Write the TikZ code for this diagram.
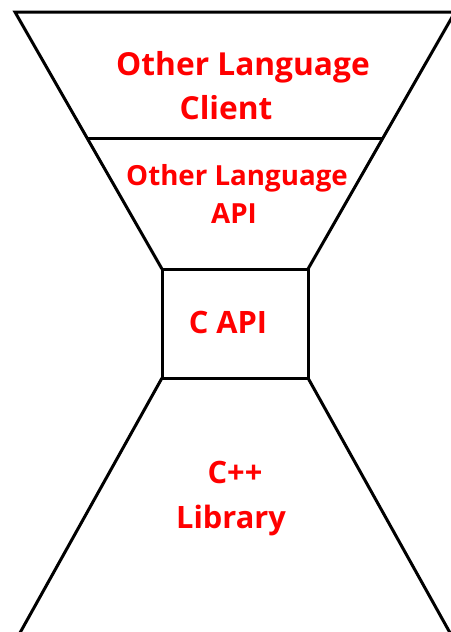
\documentclass[tikz,border=0pt]{standalone}
\usepackage{fontspec}
\setmainfont{Open Sans}
\begin{document}
\begin{tikzpicture}[x=1pt,y=-1pt,
  edge/.style={line width=3pt,line join=miter},
  lbl/.style={text=red,font=\bfseries,inner sep=0pt,anchor=base},
  biglbl/.style={lbl,font=\fontsize{31.7}{31.7}\selectfont\bfseries},
  midlbl/.style={lbl,font=\fontsize{27.7}{27.7}\selectfont\bfseries},
  corelbl/.style={lbl,font=\fontsize{30.8}{30.8}\selectfont\bfseries}]
\useasboundingbox (0,0) rectangle (450,632);
% corner points of the hourglass
\coordinate (tl) at (15,12);
\coordinate (tr) at (455,12);
\coordinate (ml) at (87,138);
\coordinate (mr) at (383,138);
\coordinate (bl) at (162,269);
\coordinate (br) at (308,269);
\coordinate (cl) at (162,378);
\coordinate (cr) at (308,378);
\coordinate (fl) at (16,640);
\coordinate (fr) at (454,640);
% outline
\draw[edge] (bl) -- (tl) -- (tr) -- (br);
\draw[edge] (ml) -- (mr);
\draw[edge] (bl) rectangle (cr);
\draw[edge] (fl) -- (cl);
\draw[edge] (cr) -- (fr);
% labels
\node[biglbl] (client1) at (243,75) {Other Language};
\node[biglbl] (client2) at (226,119) {Client};
\node[midlbl] (api1) at (237,185) {Other Language};
\node[midlbl] (api2) at (234,223) {API};
\node[corelbl] (capi) at (228,333) {C API};
\node[corelbl] (lib1) at (235,483) {C++};
\node[corelbl] (lib2) at (231,528) {Library};
\end{tikzpicture}
\end{document}
